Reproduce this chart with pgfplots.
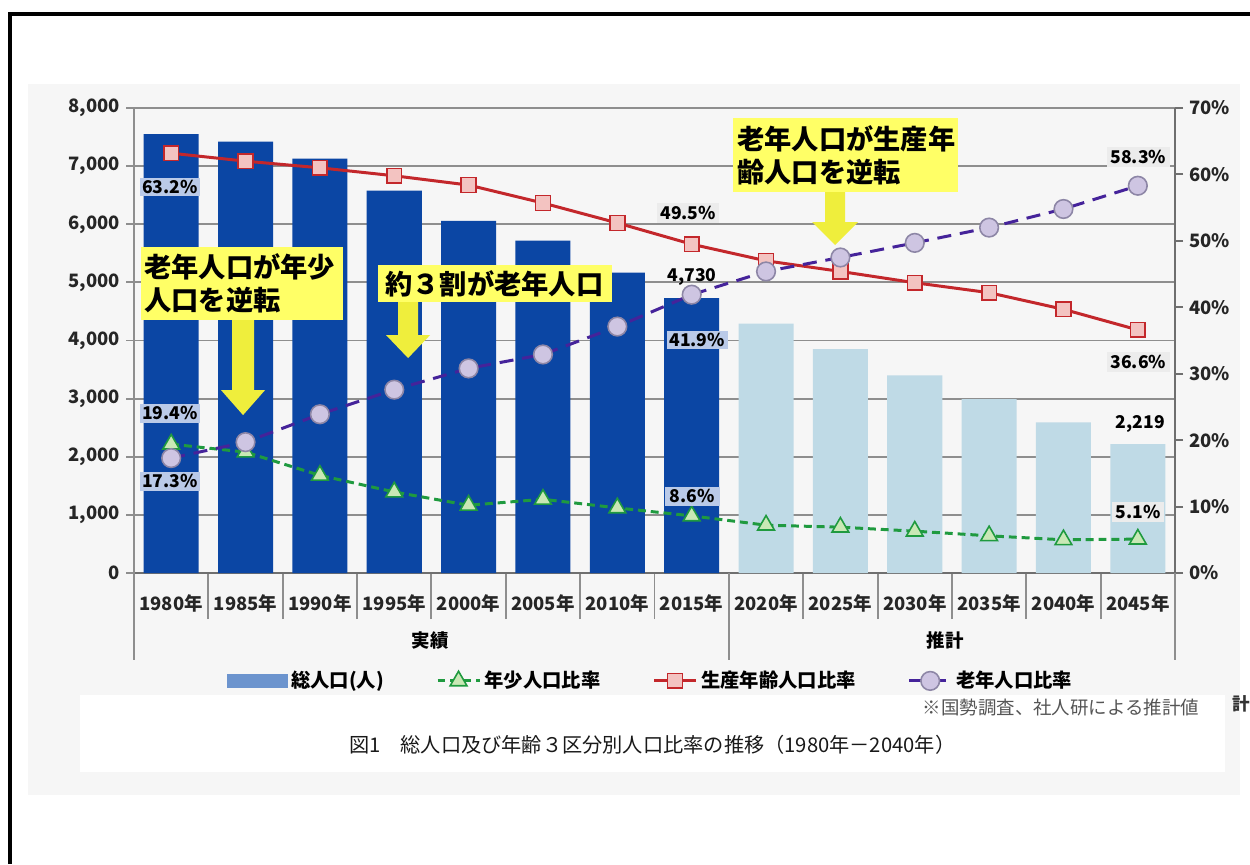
\documentclass[border=0pt]{standalone}
\usepackage{fontspec}
\setmainfont{Noto Sans CJK JP}
\usepackage{pgfplots}
\pgfplotsset{compat=1.18}

\definecolor{darkbar}{HTML}{0B46A4}
\definecolor{lightbar}{HTML}{BFDAE6}
\definecolor{legbar}{HTML}{6C94CE}
\definecolor{redline}{HTML}{C3272B}
\definecolor{redfill}{HTML}{F3C3C1}
\definecolor{purpline}{HTML}{45239A}
\definecolor{purpfill}{HTML}{CEC5E2}
\definecolor{purpedge}{HTML}{8D86A6}
\definecolor{greenline}{HTML}{1F9A3F}
\definecolor{greenfill}{HTML}{C9E8B5}
\definecolor{gridgray}{HTML}{8E8E8E}
\definecolor{axgray}{HTML}{6F6F6F}
\definecolor{bggray}{HTML}{F6F6F6}
\definecolor{annoyellow}{HTML}{FFFF66}
\definecolor{arrowyellow}{HTML}{EFEE3C}
\definecolor{labelblue}{HTML}{BACAE8}
\definecolor{labelgray}{HTML}{ECECEC}
\definecolor{notegray}{HTML}{555555}

\newcommand\tickfont{\bfseries\fontsize{10.5}{12}\selectfont}
\newcommand\annofont{\bfseries\fontsize{15.5}{18.8}\selectfont}
\newcommand\labfont{\bfseries\fontsize{10}{12}\selectfont}

\begin{document}
\begin{tikzpicture}
% the page: 1250 x 864 px of the reference, 1 px = 0.02 cm
\path[use as bounding box] (0,0) rectangle (25cm,-17.28cm);
\begin{scope}[x=0.02cm,y=-0.02cm]
  \fill[white] (0,0) rectangle (1250,864);
  \fill[bggray] (28,84) rectangle (1240,795);
  \fill[white] (80,695) rectangle (1225,772);
  \draw[black, line width=2.3pt] (10,864) -- (10,14) -- (1250,14);
\end{scope}

% total population (left axis)
\begin{axis}[
  at={(2.68cm,-11.46cm)}, anchor=south west,
  scale only axis, width=20.82cm, height=9.3cm,
  xmin=-0.5, xmax=13.5, ymin=0, ymax=8000,
  axis x line*=bottom, axis y line*=left,
  x axis line style={draw=axgray, line width=1.4pt, -},
  y axis line style={draw=gridgray, line width=1.1pt, -},
  tick align=outside, major tick length=0.16cm, minor tick length=0.92cm,
  ytick={0,1000,...,8000},
  ymajorgrids, grid style={draw=gridgray, line width=1.1pt},
  /pgf/number format/assume math mode=true,
  /pgf/number format/1000 sep={,},
  yticklabel style={font=\tickfont, text=black!85},
  major tick style={draw=gridgray, line width=1.1pt},
  xtick={0,...,13},
  xticklabels={1980年,1985年,1990年,1995年,2000年,2005年,2010年,2015年,2020年,2025年,2030年,2035年,2040年,2045年},
  xticklabel style={font=\tickfont, text=black!85, yshift=-0.14cm},
  major x tick style={draw=none},
  minor xtick={-0.5,0.5,...,13.5},
  minor tick style={draw=gridgray, line width=1.1pt},
]
\addplot[ybar, bar width=0.74, bar shift=0pt, fill=darkbar, draw=none]
  coordinates {(0,7550) (1,7420) (2,7130) (3,6580) (4,6060) (5,5720) (6,5170) (7,4730)};
\addplot[ybar, bar width=0.74, bar shift=0pt, fill=lightbar, draw=none]
  coordinates {(8,4290) (9,3850) (10,3400) (11,2990) (12,2590) (13,2219)};
\end{axis}

% ratios (right axis)
\begin{axis}[
  at={(2.68cm,-11.46cm)}, anchor=south west,
  scale only axis, width=20.82cm, height=9.3cm,
  xmin=-0.5, xmax=13.5, ymin=0, ymax=70,
  axis x line=none, axis y line*=right,
  y axis line style={draw=axgray, line width=1.4pt, -},
  tick align=outside, major tick length=0.16cm,
  major tick style={draw=axgray, line width=1.1pt},
  ytick={0,10,...,70},
  /pgf/number format/assume math mode=true,
  yticklabel={\pgfmathprintnumber{\tick}\%},
  yticklabel style={font=\tickfont, text=black!85},
  legend image code/.code={\draw[mark repeat=2,mark phase=2,#1] plot coordinates {(0cm,0cm) (0.42cm,0cm) (0.84cm,0cm)};},
  legend style={at={(0.497,-0.232)}, anchor=center, draw=none, fill=none,
    font=\bfseries\fontsize{11}{13}\selectfont, legend columns=4,
    /tikz/every even column/.append style={column sep=0.97cm}},
  clip=false,
]
\addlegendimage{legend image code/.code={\fill[legbar] (0cm,-0.13cm) rectangle (1.2cm,0.13cm);}}
\addplot[greenline, line width=1.7pt, dash pattern=on 4.5pt off 2.8pt,
  mark=triangle*, mark size=5.5pt, mark options={solid, fill=greenfill, draw=greenline, line width=0.9pt}]
  coordinates {(0,19.4) (1,18.2) (2,14.7) (3,12.2) (4,10.2) (5,11.1) (6,9.8) (7,8.6)
               (8,7.2) (9,6.9) (10,6.3) (11,5.6) (12,5.0) (13,5.1)};
\addplot[redline, line width=1.7pt,
  mark=square*, mark size=4.2pt, mark options={fill=redfill, draw=redline, line width=0.9pt}]
  coordinates {(0,63.2) (1,62.0) (2,61.0) (3,59.8) (4,58.4) (5,55.7) (6,52.7) (7,49.5)
               (8,47.0) (9,45.4) (10,43.7) (11,42.2) (12,39.7) (13,36.6)};
\addplot[purpline, line width=1.7pt, dash pattern=on 8pt off 5pt,
  mark=*, mark size=5.3pt, mark options={solid, fill=purpfill, draw=purpedge, line width=0.9pt}]
  coordinates {(0,17.3) (1,19.7) (2,23.9) (3,27.6) (4,30.8) (5,32.9) (6,37.1) (7,41.9)
               (8,45.4) (9,47.5) (10,49.7) (11,52.0) (12,54.8) (13,58.3)};
\legend{総人口(人),年少人口比率,生産年齢人口比率,老年人口比率}
\end{axis}

% annotations, data labels, group labels, caption
\begin{scope}[x=0.02cm,y=-0.02cm]
  % category group separators
  \foreach \gx in {134,729,1175} \draw[gridgray, line width=1.1pt] (\gx,573) -- (\gx,660);
  \node[font=\tickfont] at (430,640) {実績};
  \node[font=\tickfont] at (945,640) {推計};

  % data labels
  \foreach \lx/\ly/\lt in {170/187/63.2, 170/413/19.4, 170/481/17.3, 697/340/41.9, 692/496/8.6}
    \node[font=\labfont, fill=labelblue, minimum width=1.1cm, inner sep=1.5pt] at (\lx,\ly) {\lt\%};
  \foreach \lx/\ly/\lt in {688/213/49.5, 1138/157/58.3, 1138/362/36.6, 1138/512/5.1}
    \node[font=\labfont, fill=labelgray, inner sep=2pt] at (\lx,\ly) {\lt\%};
  \node[font=\labfont] at (692,277) {4,730};
  \node[font=\labfont] at (1140,424) {2,219};

  % call-out boxes and arrows
  \fill[annoyellow] (141,247) rectangle (343,320);
  \node[anchor=west, align=left, inner sep=0pt, font=\annofont] at (144,283.5) {老年人口が年少\\人口を逆転};
  \fill[arrowyellow] (232,320) -- (254,320) -- (254,390) -- (265,390) -- (243,415) -- (221,390) -- (232,390) -- cycle;

  \fill[annoyellow] (378,265) rectangle (612,302);
  \node[anchor=west, inner sep=0pt, font=\annofont] at (385,283.5) {約３割が老年人口};
  \fill[arrowyellow] (398,302) -- (418,302) -- (418,335) -- (430,335) -- (408,358) -- (386,335) -- (398,335) -- cycle;

  \fill[annoyellow] (733,118) rectangle (958,192);
  \node[anchor=west, align=left, inner sep=0pt, font=\annofont] at (737,155) {老年人口が生産年\\齢人口を逆転};
  \fill[arrowyellow] (825,192) -- (845,192) -- (845,222) -- (858,222) -- (835,245) -- (812,222) -- (825,222) -- cycle;

  % source note and caption
  \node[anchor=east, font=\fontsize{10.5}{12}\selectfont, text=notegray] at (1205,707) {※国勢調査、社人研による推計値};
  \node[anchor=east, inner sep=0pt, font=\bfseries\fontsize{10}{12}\selectfont, text=black!80] at (1250,704) {計};
  \node[font=\fontsize{11.5}{13}\selectfont, text=black!90] at (652,745) {図1　総人口及び年齢３区分別人口比率の推移（1980年－2040年）};
\end{scope}
\end{tikzpicture}
\end{document}
